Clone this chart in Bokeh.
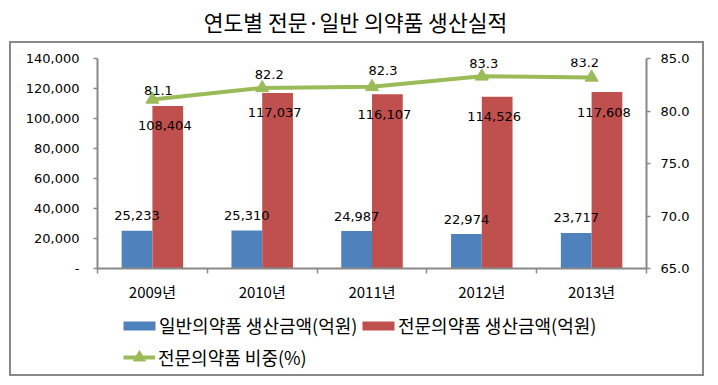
from bokeh.plotting import figure
from bokeh.layouts import column
from bokeh.models import (Range1d, LinearAxis, FixedTicker, NumeralTickFormatter,
                          LabelSet, Legend, LegendItem, ColumnDataSource)
from bokeh.transform import dodge
from bokeh.core.properties import value
from bokeh.embed import file_html
from bokeh.resources import INLINE

# ---------------- data ----------------
title_text = "연도별 전문·일반 의약품 생산실적"
years = ["2009년", "2010년", "2011년", "2012년", "2013년"]
general_amount = [25233, 25310, 24987, 22974, 23717]          # 일반의약품 생산금액(억원)
prescription_amount = [108404, 117037, 116107, 114526, 117608]  # 전문의약품 생산금액(억원)
prescription_share = [81.1, 82.2, 82.3, 83.3, 83.2]             # 전문의약품 비중(%)
series_names = ["일반의약품 생산금액(억원)", "전문의약품 생산금액(억원)", "전문의약품 비중(%)"]
left_ticks = [0, 20000, 40000, 60000, 80000, 100000, 120000, 140000]
right_ticks = [65, 70, 75, 80, 85]

# label nudges (pixels) for the share labels, as placed in the original
share_label_dx = [6, 7, 11, 2, -7]
share_label_dy = [9, 13, 16, 13, 15]

# ---------------- styles ----------------
BLUE = "#4F81BD"
RED = "#C0504D"
GREEN = "#9BBB59"
GRAY = "#898989"
NUM_FONT = "DejaVu Sans"
KR_FONT = "Noto Sans CJK KR"

idx = list(range(len(years)))
src = ColumnDataSource(dict(
    x=idx,
    general=general_amount,
    prescription=prescription_amount,
    share=prescription_share,
    gl=[f"{v:,}" for v in general_amount],
    pl=[f"{v:,}" for v in prescription_amount],
    sl=[f"{v:.1f}" for v in prescription_share],
    dx=share_label_dx,
    dy=share_label_dy,
))

# ---------------- title strip ----------------
t = figure(width=710, height=41, x_range=Range1d(0, 1), y_range=Range1d(0, 1),
           x_axis_type=None, y_axis_type=None, output_backend="svg",
           toolbar_location=None, min_border=0)
t.outline_line_color = None
t.title.text = title_text
t.title.align = "center"
t.title.text_font = KR_FONT
t.title.text_font_size = "21.5px"
t.title.text_font_style = "normal"
t.title.text_color = "black"

# ---------------- main chart ----------------
p = figure(width=695, height=264,
           x_range=Range1d(-0.5, len(years) - 0.5),
           y_range=Range1d(left_ticks[0], left_ticks[-1]),
           output_backend="svg", toolbar_location=None,
           min_border_left=88, min_border_right=58,
           min_border_top=17, min_border_bottom=37)
p.extra_y_ranges = {"pct": Range1d(right_ticks[0], right_ticks[-1])}
p.xgrid.visible = False
p.ygrid.visible = False
p.outline_line_color = None
p.background_fill_color = None
p.border_fill_color = None
p.styles = {"box-shadow": f"inset 2px 0 0 0 {GRAY}, inset -2px 0 0 0 {GRAY}, inset 0 2px 0 0 {GRAY}"}

# bars
rb = p.vbar(x=dodge("x", -0.14), top="general", width=0.28, source=src,
            fill_color=BLUE, line_color=None)
rr = p.vbar(x=dodge("x", 0.14), top="prescription", width=0.28, source=src,
            fill_color=RED, line_color=None)

# line
rl = p.line(x="x", y="share", source=src, y_range_name="pct",
            line_color=GREEN, line_width=4)
rm = p.scatter(x="x", y="share", source=src, y_range_name="pct",
               marker="triangle", size=13, fill_color=GREEN, line_color=GREEN)

# data labels
p.text(x=dodge("x", -0.14), y="general", text="gl", source=src,
       text_align="center", text_baseline="middle", y_offset=-15,
       text_font=value(NUM_FONT), text_font_size="13px", text_color="black")
p.text(x=dodge("x", 0.14), y="prescription", text="pl", source=src,
       text_align="center", text_baseline="middle", x_offset=-3, y_offset=20,
       text_font=value(NUM_FONT), text_font_size="13px", text_color="black")
share_labels = LabelSet(x="x", y="share", text="sl", source=src, y_range_name="pct",
                        x_offset="dx", y_offset="dy",
                        text_align="center", text_baseline="middle",
                        text_font=value(NUM_FONT), text_font_size="13px",
                        text_color="black")
p.add_layout(share_labels)

# left axis
ya = p.yaxis[0]
ya.ticker = FixedTicker(ticks=left_ticks)
ya.formatter = NumeralTickFormatter(format="0,0")
ya.major_label_overrides = {0: "-"}

# right axis
ra = LinearAxis(y_range_name="pct", ticker=FixedTicker(ticks=right_ticks),
                formatter=NumeralTickFormatter(format="0.0"))
p.add_layout(ra, "right")

for ax in (ya, ra):
    ax.axis_line_color = GRAY
    ax.axis_line_width = 2
    ax.major_tick_line_color = GRAY
    ax.major_tick_line_width = 1.5
    ax.major_tick_out = 4
    ax.major_tick_in = 0
    ax.minor_tick_line_color = None
    ax.major_label_text_font = NUM_FONT
    ax.major_label_text_font_size = "13px"
    ax.major_label_text_color = "black"
ya.major_label_standoff = 14
ra.major_label_standoff = 10

# bottom axis
xa = p.xaxis[0]
xa.ticker = FixedTicker(ticks=idx, minor_ticks=[i - 0.5 for i in range(len(years) + 1)])
xa.major_label_overrides = {i: y for i, y in zip(idx, years)}
xa.axis_line_color = GRAY
xa.axis_line_width = 2
xa.major_tick_line_color = None
xa.major_tick_out = 0
xa.major_tick_in = 0
xa.minor_tick_line_color = GRAY
xa.minor_tick_line_width = 1.5
xa.minor_tick_out = 5
xa.minor_tick_in = 0
xa.major_label_standoff = 7
xa.major_label_text_font = KR_FONT
xa.major_label_text_font_size = "15px"
xa.major_label_text_color = "black"

# ---------------- legend strip (inside the same box) ----------------
lf = figure(width=695, height=71, x_range=Range1d(0, 1), y_range=Range1d(0, 1),
            x_axis_type=None, y_axis_type=None, output_backend="svg",
            toolbar_location=None, min_border=0)
lf.outline_line_color = None
lf.background_fill_color = None
lf.border_fill_color = None
lf.styles = {"box-shadow": f"inset 2px 0 0 0 {GRAY}, inset -2px 0 0 0 {GRAY}, inset 0 -2px 0 0 {GRAY}"}
# legend keys: the same series, hidden in this strip (only their key glyphs are shown)
kb = lf.vbar(x=dodge("x", -0.14), top="general", width=0.28, source=src,
             fill_color=BLUE, line_color=None, visible=False)
kr = lf.vbar(x=dodge("x", 0.14), top="prescription", width=0.28, source=src,
             fill_color=RED, line_color=None, visible=False)
kl = lf.line(x="x", y="share", source=src, line_color=GREEN, line_width=4, visible=False)
km = lf.scatter(x="x", y="share", source=src, marker="triangle",
                fill_color=GREEN, line_color=GREEN, visible=False)

common = dict(orientation="horizontal", padding=0, margin=0, border_line_color=None,
              background_fill_alpha=0, label_text_font=KR_FONT,
              label_text_font_size="18px", label_text_color="black",
              label_height=20, inactive_fill_alpha=0)
leg1 = Legend(items=[LegendItem(label=series_names[0], renderers=[kb]),
                     LegendItem(label=series_names[1], renderers=[kr])],
              location=(22, 38), glyph_width=40, glyph_height=11,
              label_standoff=0, label_width=199, spacing=0, **common)
leg2 = Legend(items=[LegendItem(label=series_names[2], renderers=[kl, km])],
              location=(26, 4), glyph_width=32, glyph_height=30,
              label_standoff=3, spacing=0, **common)
lf.add_layout(leg1)
lf.add_layout(leg2)

boxed = column(p, lf, spacing=0, margin=(0, 0, 0, 9))
layout = column(t, boxed, spacing=0)
open("out.html", "w").write(file_html(layout, INLINE))
